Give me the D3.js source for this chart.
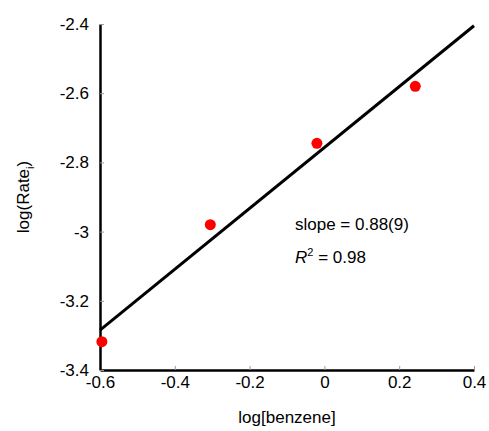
<!DOCTYPE html>
<html>
<head>
<meta charset="utf-8">
<script src="https://cdn.jsdelivr.net/npm/d3@7"></script>
<style>
  body { margin: 0; background: #fff; }
  text { font-family: "Liberation Sans", Arial, sans-serif; }
</style>
</head>
<body>
<div id="chart"></div>
<script>
// data
const logBenzene = [-0.595, -0.305, -0.02, 0.243];
const logRate = [-3.318, -2.98, -2.745, -2.58];
const fitLine = [[-0.6, -3.285], [0.4, -2.405]];
const xTicks = [-0.6, -0.4, -0.2, 0, 0.2, 0.4];
const yTicks = [-3.4, -3.2, -3, -2.8, -2.6, -2.4];

const width = 489, height = 431;
const margin = { top: 24, right: 15, bottom: 61, left: 100 };
const fs = 17;

const svg = d3.select("#chart").append("svg")
    .attr("width", width)
    .attr("height", height);

const x = d3.scaleLinear().domain([-0.6, 0.4]).range([margin.left, width - margin.right]);
const y = d3.scaleLinear().domain([-3.4, -2.4]).range([height - margin.bottom, margin.top]);

const fmt = d => String(d); // plain hyphen, like the original

const xAxis = g => g
    .attr("transform", `translate(0, ${height - margin.bottom})`)
    .call(d3.axisBottom(x).tickValues(xTicks).tickFormat(fmt).tickSizeInner(-4).tickSizeOuter(0).tickPadding(6))
    .call(g => g.select(".domain").attr("stroke-width", 2.5))
    .call(g => g.selectAll(".tick line").attr("stroke", "#999"))
    .call(g => g.selectAll(".tick text").attr("font-size", fs).attr("fill", "#000"));

const yAxis = g => g
    .attr("transform", `translate(${margin.left}, 0)`)
    .call(d3.axisLeft(y).tickValues(yTicks).tickFormat(fmt).tickSizeInner(-4).tickSizeOuter(0).tickPadding(11))
    .call(g => g.select(".domain").attr("stroke-width", 2.5))
    .call(g => g.selectAll(".tick line").attr("stroke", "#999"))
    .call(g => g.selectAll(".tick text").attr("font-size", fs).attr("fill", "#000"));

svg.append("g").call(xAxis);
svg.append("g").call(yAxis);

// fit line
svg.append("path")
    .datum(fitLine)
    .attr("fill", "none")
    .attr("stroke", "#000")
    .attr("stroke-width", 3)
    .attr("d", d3.line().x(d => x(d[0])).y(d => y(d[1])));

// points
svg.append("g")
    .selectAll("circle")
    .data(logBenzene)
    .join("circle")
    .attr("cx", d => x(d))
    .attr("cy", (d, i) => y(logRate[i]))
    .attr("r", 5.5)
    .attr("fill", "#ff0000");

// annotation
svg.append("text")
    .attr("x", 295).attr("y", 230)
    .attr("font-size", fs)
    .text("slope = 0.88(9)");

const r2 = svg.append("text")
    .attr("x", 295).attr("y", 263)
    .attr("font-size", fs);
r2.append("tspan").attr("font-style", "italic").text("R");
r2.append("tspan").attr("font-size", 11).attr("dy", -7).text("2");
r2.append("tspan").attr("dy", 7).text(" = 0.98");

// axis titles
svg.append("text")
    .attr("x", (margin.left + width - margin.right) / 2)
    .attr("y", 423)
    .attr("text-anchor", "middle")
    .attr("font-size", fs)
    .text("log[benzene]");

const yl = svg.append("text")
    .attr("transform", `translate(29, ${(margin.top + height - margin.bottom) / 2}) rotate(-90)`)
    .attr("text-anchor", "middle")
    .attr("font-size", fs);
yl.append("tspan").text("log(Rate");
yl.append("tspan").attr("font-size", 11).attr("dy", 5).text("i");
yl.append("tspan").attr("dy", -5).text(")");
</script>
</body>
</html>
